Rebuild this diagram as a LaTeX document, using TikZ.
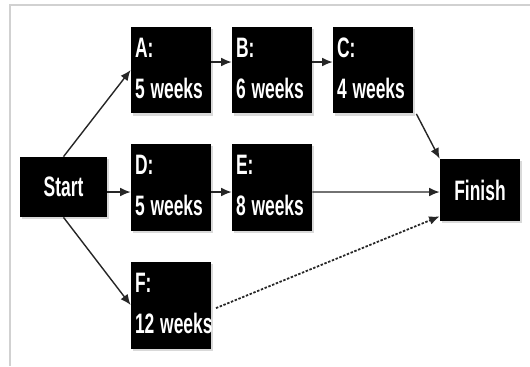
\documentclass[tikz,border=0pt]{standalone}
\usepackage{fontspec}
\usepackage{graphicx}
\setmainfont{Liberation Sans}
\newcommand\narrow[1]{\scalebox{0.62}[1]{#1}}
\newcommand\tasklabel[2]{\narrow{\begin{tabular}{@{}l@{}}#1:\\#2\end{tabular}}}
\usetikzlibrary{shadows,arrows.meta}

\begin{document}
\begin{tikzpicture}[x=0.02cm, y=-0.02cm, >={Latex[length=6pt,width=5pt]},
	box/.style={fill=black, text=white, inner sep=0pt,
		font=\bfseries\fontsize{16}{23}\selectfont,
		drop shadow={shadow xshift=1.4pt, shadow yshift=-1.4pt, opacity=.3}},
	task/.style={box, minimum width=1.6cm, minimum height=1.74cm,
		text width=1.44cm, align=left},
	link/.style={->, draw=black!85, line width=0.8pt}]
	\useasboundingbox (0,0) rectangle (530,366);
	% frame
	\draw[black!18, line width=1.2pt] (530,5) -- (10,5) -- (10,366);

	\path
		(63.5,187) node[box, minimum width=1.74cm, minimum height=1.2cm] (start) {\narrow{Start}}
		(171,70) node[task] (A) {\tasklabel{A}{5 weeks}}
		(272,70) node[task] (B) {\tasklabel{B}{6 weeks}}
		(373,70) node[task] (C) {\tasklabel{C}{4 weeks}}
		(171,187) node[task] (D) {\tasklabel{D}{5 weeks}}
		(272,187) node[task] (E) {\tasklabel{E}{8 weeks}}
		(171,305) node[task] (F) {\tasklabel{F}{12 weeks}}
		(480,190) node[box, minimum width=1.6cm, minimum height=1.24cm] (finish) {\narrow{Finish}}
	;
	\draw[link] (start.north) -- (A.west);
	\draw[link] ([yshift=0.16cm]A.east) -- ([yshift=0.16cm]B.west);
	\draw[link] ([yshift=0.16cm]B.east) -- ([yshift=0.16cm]C.west);
	\draw[link] ([yshift=-0.1cm]start.east) -- ([yshift=-0.1cm]D.west);
	\draw[link] ([yshift=-0.1cm]D.east) -- ([yshift=-0.1cm]E.west);
	\draw[link] ([yshift=-0.1cm]E.east) -- ([yshift=-0.04cm]finish.west);
	\draw[link] (start.south) -- (F.west);
	\draw[link] ([xshift=0.06cm]C.south east) -- (finish.north west);
	\draw[link, line width=1pt, dash pattern=on 1.4pt off 0.9pt, shorten <=0.1cm]
		([yshift=-0.1cm]F.east) -- ([yshift=0.1cm]finish.south west);
\end{tikzpicture}
\end{document}
